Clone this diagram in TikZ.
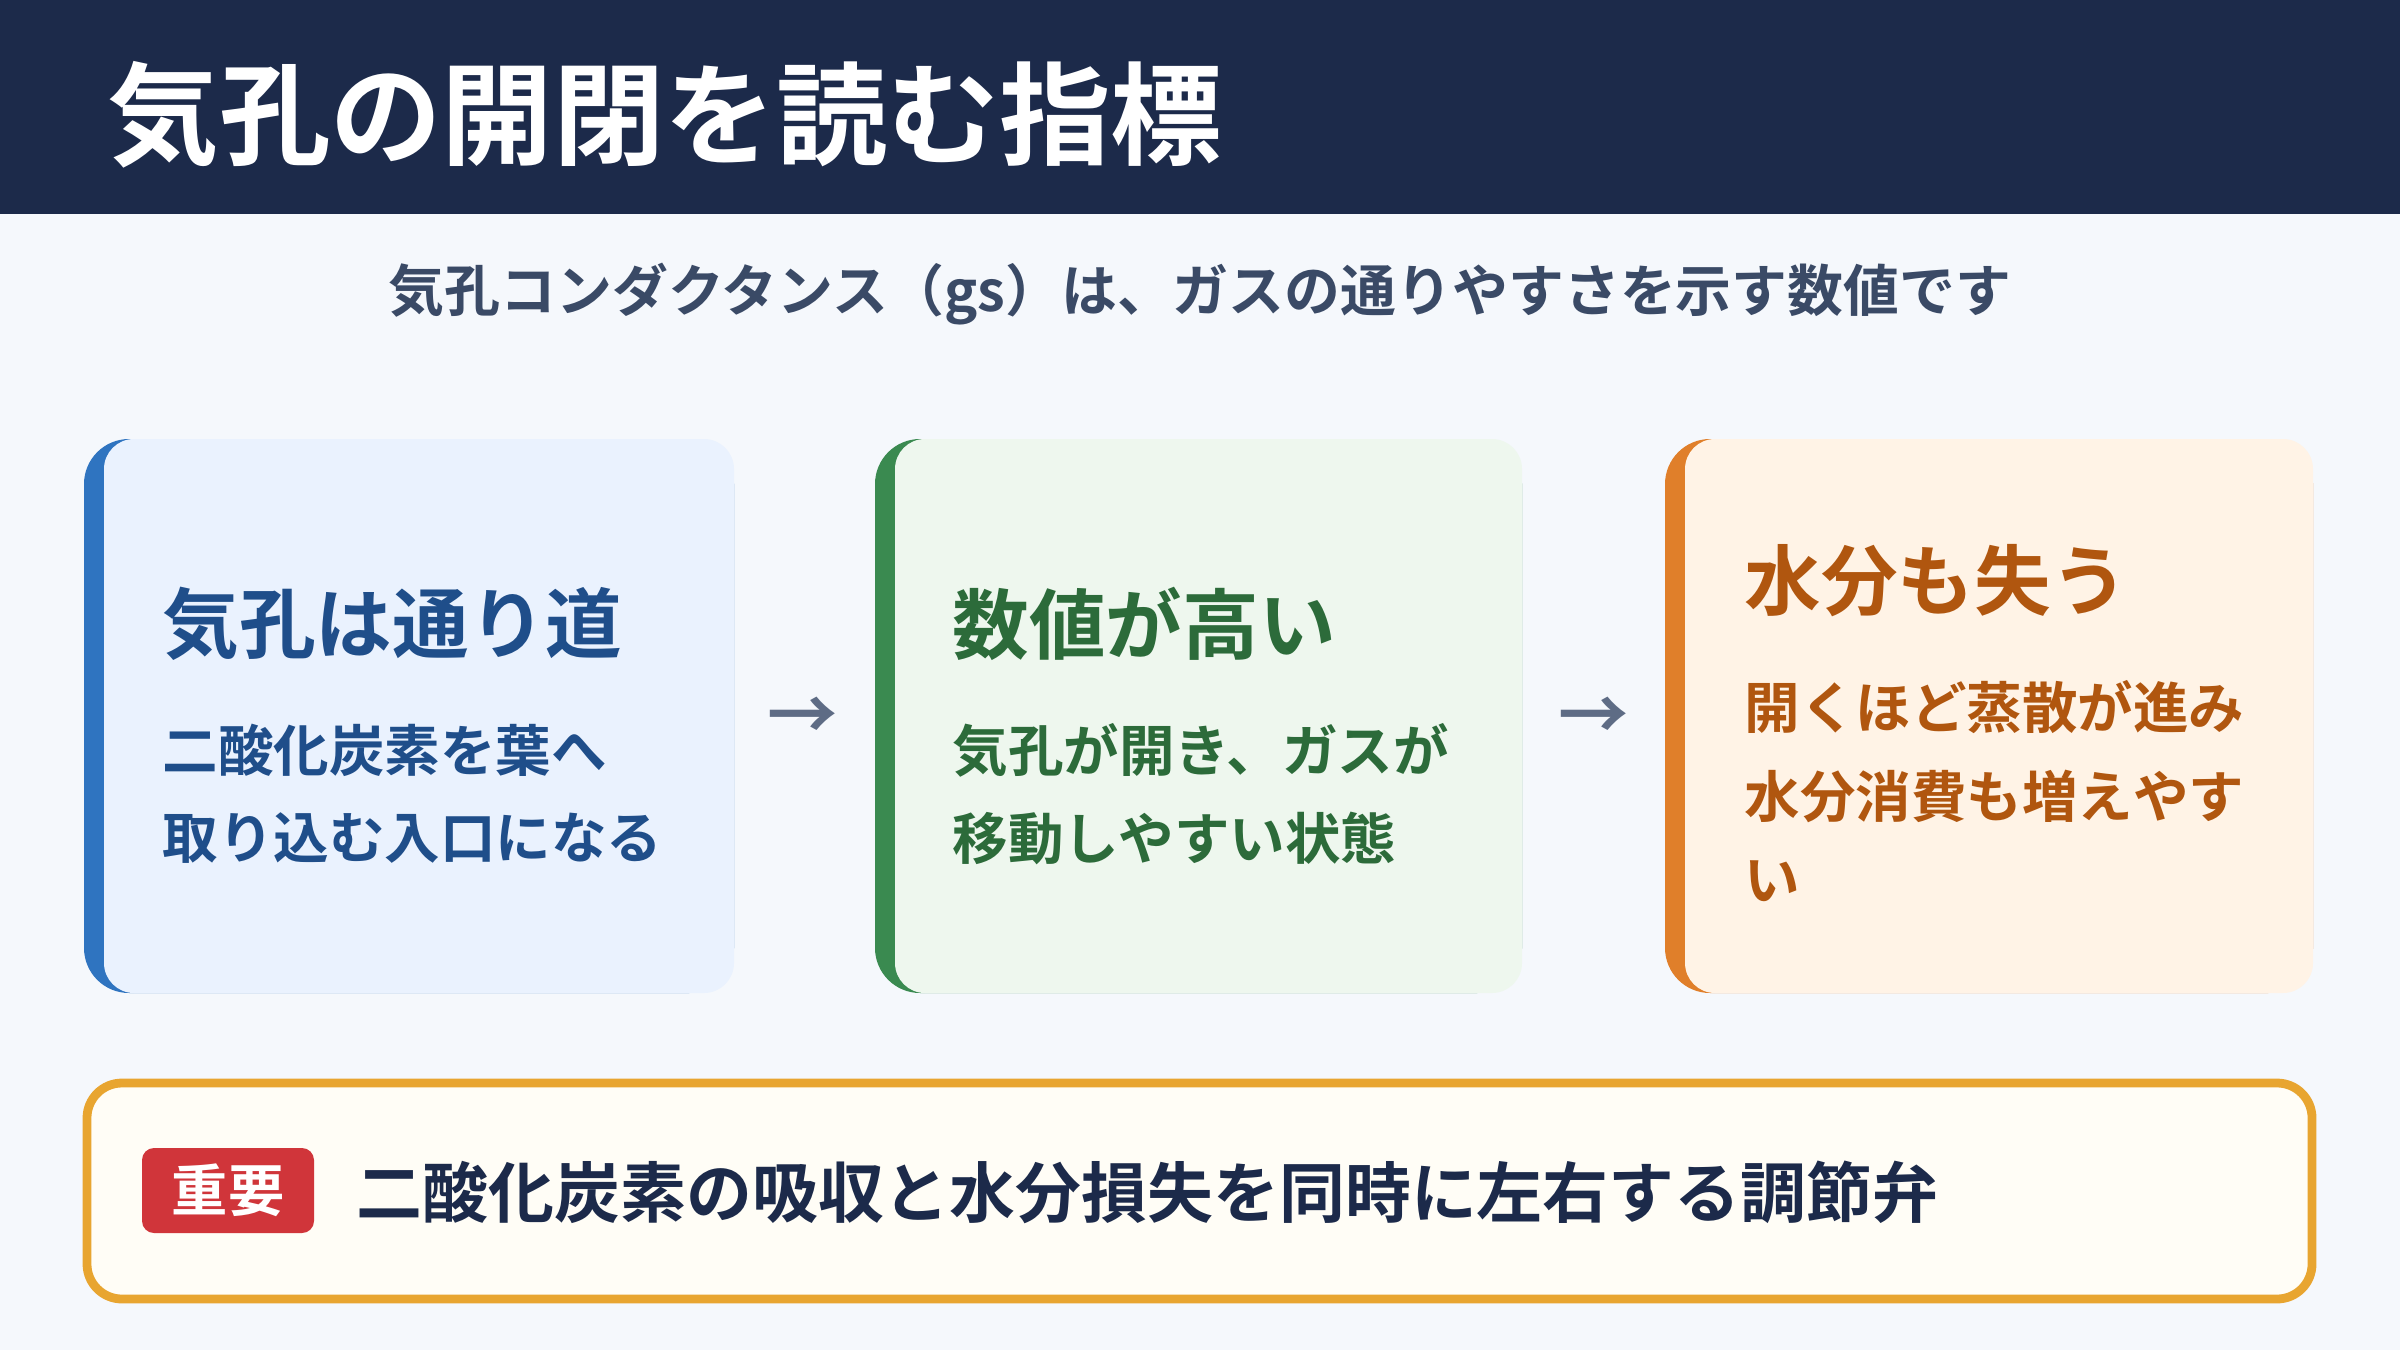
\documentclass[tikz,border=0pt]{standalone}
\usepackage{fontspec}
\setmainfont{Noto Sans CJK JP}[BoldFont={* Bold}]
\usetikzlibrary{positioning}
\definecolor{navy}{HTML}{1C2A4A}
\definecolor{pagebg}{HTML}{F5F8FC}
\definecolor{subgray}{HTML}{3A4A66}
\definecolor{arrowgray}{HTML}{5E6C85}
\definecolor{bluebar}{HTML}{2F74C0}
\definecolor{bluefill}{HTML}{EAF2FE}
\definecolor{bluetext}{HTML}{1F4E8A}
\definecolor{greenbar}{HTML}{3A8A50}
\definecolor{greenfill}{HTML}{EEF7EE}
\definecolor{greentext}{HTML}{2C6B3A}
\definecolor{orangebar}{HTML}{E07F2A}
\definecolor{orangefill}{HTML}{FFF3E6}
\definecolor{orangetext}{HTML}{B0560F}
\definecolor{notebd}{HTML}{E8A530}
\definecolor{notefill}{HTML}{FFFDF6}
\definecolor{badgered}{HTML}{D0353A}
\tikzset{
card head/.style={anchor=west,font=\bfseries\fontsize{21.8}{26}\selectfont,inner sep=0pt},
card body/.style={anchor=west,font=\bfseries\fontsize{15.8}{19}\selectfont,inner sep=0pt},
step arrow/.style={font=\bfseries\fontsize{20}{24}\selectfont,text=arrowgray,inner sep=0pt}
}
\newcommand{\stepcard}[4]{% x0, x1, bar colour, fill colour
  \fill[#3,rounded corners=0.45cm] (#1,3.57) rectangle (#2,9.11);
  \fill[#4,rounded corners=0.3cm] ({#1+0.2},3.57) rectangle (#2,9.11);
}
\begin{document}
\begin{tikzpicture}
\useasboundingbox (0,0) rectangle (24,13.5);
\fill[pagebg] (0,0) rectangle (24,13.5);
% title bar
\fill[navy] (0,11.36) rectangle (24,13.5);
\node[anchor=west,text=white,font=\bfseries\fontsize{31.7}{38}\selectfont,inner sep=0pt] (title) at (1.07,12.35) {気孔の開閉を読む指標};
\node[text=subgray,font=\bfseries\fontsize{15.9}{19}\selectfont] (sub) at (12,10.56) {気孔コンダクタンス（gs）は、ガスの通りやすさを示す数値です};
% cards
\stepcard{0.84}{7.34}{bluebar}{bluefill}
\stepcard{8.75}{15.22}{greenbar}{greenfill}
\stepcard{16.65}{23.13}{orangebar}{orangefill}
\node[card head,text=bluetext] (h1) at (1.62,7.26) {気孔は通り道};
\node[card body,text=bluetext] (b1a) at (1.62,6.0) {二酸化炭素を葉へ};
\node[card body,text=bluetext] (b1b) at (1.62,5.12) {取り込む入口になる};
\node[card head,text=greentext] (h2) at (9.52,7.26) {数値が高い};
\node[card body,text=greentext] (b2a) at (9.52,6.0) {気孔が開き、ガスが};
\node[card body,text=greentext] (b2b) at (9.52,5.12) {移動しやすい状態};
\node[card head,text=orangetext] (h3) at (17.44,7.69) {水分も失う};
\node[card body,text=orangetext] (b3a) at (17.44,6.43) {開くほど蒸散が進み};
\node[card body,text=orangetext] (b3b) at (17.44,5.54) {水分消費も増えやす};
\node[card body,text=orangetext] (b3c) at (17.44,4.69) {い};
\node[step arrow] (a1) at (8.03,6.31) {→};
\node[step arrow] (a2) at (15.94,6.31) {→};
% note
\draw[notebd,line width=2.5pt,fill=notefill,rounded corners=0.35cm] (0.87,0.51) rectangle (23.12,2.67);
\fill[badgered,rounded corners=0.12cm] (1.42,1.17) rectangle (3.14,2.02);
\node[text=white,font=\bfseries\fontsize{16}{19}\selectfont] (badge) at (2.28,1.595) {重要};
\node[anchor=west,text=navy,font=\bfseries\fontsize{18.75}{23}\selectfont,inner sep=0pt] (note) at (3.56,1.58) {二酸化炭素の吸収と水分損失を同時に左右する調節弁};
\end{tikzpicture}
\end{document}
